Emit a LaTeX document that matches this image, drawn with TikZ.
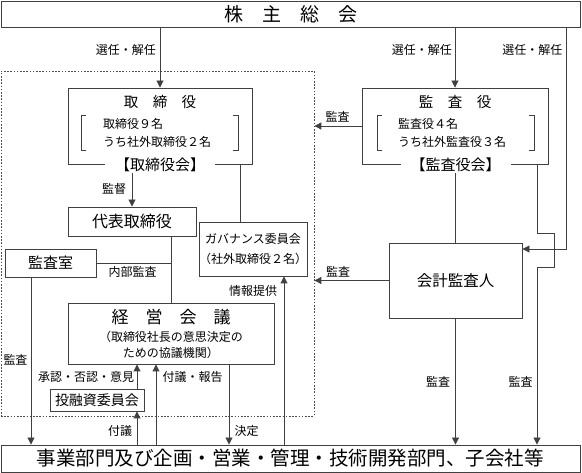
\documentclass[tikz,border=0pt]{standalone}
\usepackage{fontspec}
\newfontfamily\jp{Noto Sans CJK JP}
\usetikzlibrary{arrows.meta}
\definecolor{lc}{HTML}{404040}
\newcommand\fsz[2]{\fontsize{#1}{#2}\selectfont}
\begin{document}
\begin{tikzpicture}[x=1pt,y=-1pt,
  line/.style={draw=lc,line width=0.9pt},
  arr/.style={line,-{Triangle[length=7pt,width=7pt]}},
  box/.style={draw=lc,line width=0.9pt,inner sep=0pt,rectangle},
  t/.style={font=\jp\fsz{#1}{#1},inner sep=0pt,text=black},
  tt/.style={font=\jp\fsz{12}{#1},inner sep=0pt,text=black},
  dotbox/.style={draw=black!70,line width=0.8pt,dash pattern=on 1.6pt off 1.6pt,inner sep=0pt,rectangle},
  bracket/.style={draw=lc,line width=0.8pt},
  lab/.style={font=\jp\fsz{12}{12},inner sep=0pt,text=black},
]
\useasboundingbox (0,0) rectangle (582,473);

% dotted area
\node[dotbox,minimum width=313pt,minimum height=345pt] (area) at (157.5,243.5) {};

% boxes
\node[box,t=19,minimum width=579pt,minimum height=26pt] (top) at (290.5,14) {株　主　総　会};
\node[box,minimum width=184pt,minimum height=76pt] (tori) at (160,126) {};
\node[box,minimum width=186pt,minimum height=76pt] (kansa) at (455,126) {};
\node[box,t=16,minimum width=128pt,minimum height=29pt] (daihyo) at (132,221.5) {代表取締役};
\node[box,t=15,minimum width=91pt,minimum height=28pt] (shitsu) at (50.5,263) {監査室};
\node[box,tt=20,align=center,minimum width=102pt,minimum height=54pt] (gov) at (253,249) {ガバナンス委員会\\（社外取締役２名）};
\node[box,minimum width=206pt,minimum height=61pt] (keiei) at (171,333.5) {};
\node[box,t=14,minimum width=94pt,minimum height=22pt] (toyushi) at (97,400) {投融資委員会};
\node[box,t=15.5,minimum width=133pt,minimum height=75pt] (kaikei) at (455.5,280.5) {会計監査人};
\node[box,t=19.5,minimum width=579pt,minimum height=27pt] (bottom) at (290.5,458.5) {事業部門及び企画・営業・管理・技術開発部門、子会社等};

% texts inside tori
\node[t=14.5] (toriT) at (160,102) {取　締　役};
\node[tt=18,align=left,anchor=west] (toriM) at (103,133) {取締役９名\\うち社外取締役２名};
\node[t=15,fill=white,inner xsep=10pt,inner ysep=1pt] (toriK) at (160,165) {【取締役会】};
\draw[bracket] (86,115) -| (81,150) -- (86,150);
\draw[bracket] (233,115) -| (238,150) -- (233,150);

% texts inside kansa
\node[t=14.5] (kansaT) at (455,102) {監　査　役};
\node[tt=18,align=left,anchor=west] (kansaM) at (398,133) {監査役４名\\うち社外監査役３名};
\node[t=15,fill=white,inner xsep=10pt,inner ysep=1pt] (kansaK) at (455.5,165) {【監査役会】};
\draw[bracket] (382,115) -| (377,150) -- (382,150);
\draw[bracket] (529,115) -| (534,150) -- (529,150);

% texts inside keiei
\node[t=17] (keieiT) at (171,317) {経　営　会　議};
\node[tt=16,align=center] (keieiM) at (171,345) {（取締役社長の意思決定の\\ための協議機関）};

% coordinates for connector x positions
\coordinate (rx) at (566,249);
\coordinate (jx) at (537,0);
\coordinate (gx) at (240,0);
\coordinate (sx) at (31,0);
\coordinate (ix) at (284,0);
\coordinate (ax) at (137,0);
\coordinate (bx) at (156,0);
\coordinate (cx) at (229,0);
\coordinate (mx) at (132,0);

% connectors
\draw[arr] (tori.north |- top.south) -- (tori.north);
\draw[arr] (kansa.north |- top.south) -- (kansa.north);
\draw[arr] (top.south -| rx) -- (rx) -- (rx -| kaikei.east);
\draw[arr] (kansa.west) -- (kansa.west -| area.east);
\draw[arr] (kaikei.west) -- (kaikei.west -| area.east);
\draw[line] (kansaK.south -| kaikei.north) -- (kaikei.north);
\draw[arr] (kaikei.south) -- (kaikei.south |- bottom.north);
\draw[arr] (kansa.south -| jx) -- ++(0,69) -- ++(17,0) -- ++(0,34) -- ++(-17,0) -- (bottom.north -| jx);
\draw[line] (tori.south -| gx) -- (gov.north -| gx);
\draw[arr] (toriK.south -| daihyo.north) -- (daihyo.north);
\draw[line] (daihyo.south -| keiei.north) -- (keiei.north);
\draw[line] (shitsu.east) -- (shitsu.east -| keiei.north);
\draw[arr] (shitsu.south -| sx) -- (bottom.north -| sx);
\draw[arr] (bottom.north -| ix) -- (gov.south -| ix);
\draw[arr] (toyushi.north -| ax) -- (keiei.south -| ax);
\draw[arr] (bottom.north -| ax) -- (toyushi.south -| ax);
\draw[arr] (bottom.north -| bx) -- (keiei.south -| bx);
\draw[arr] (keiei.south -| cx) -- (bottom.north -| cx);

% labels
\node[lab,anchor=east] (l1) at (156,50) {選任・解任};
\node[lab,anchor=east] (l2) at (452,50) {選任・解任};
\node[lab,anchor=east] (l3) at (562.5,50) {選任・解任};
\node[lab] (l4) at (337.5,117) {監査};
\node[lab] (l5) at (338,272) {監査};
\node[lab] (l6) at (114,189) {監督};
\node[lab] (l7) at (132.5,272) {内部監査};
\node[lab] (l8) at (253,291) {情報提供};
\node[lab] (l9) at (86,377) {承認・否認・意見};
\node[lab] (l10) at (192.5,377) {付議・報告};
\node[lab] (l11) at (120,431) {付議};
\node[lab] (l12) at (246.5,431) {決定};
\node[lab] (l13) at (15.5,360) {監査};
\node[lab] (l14) at (438,382) {監査};
\node[lab] (l15) at (520.5,382) {監査};
\end{tikzpicture}
\end{document}
